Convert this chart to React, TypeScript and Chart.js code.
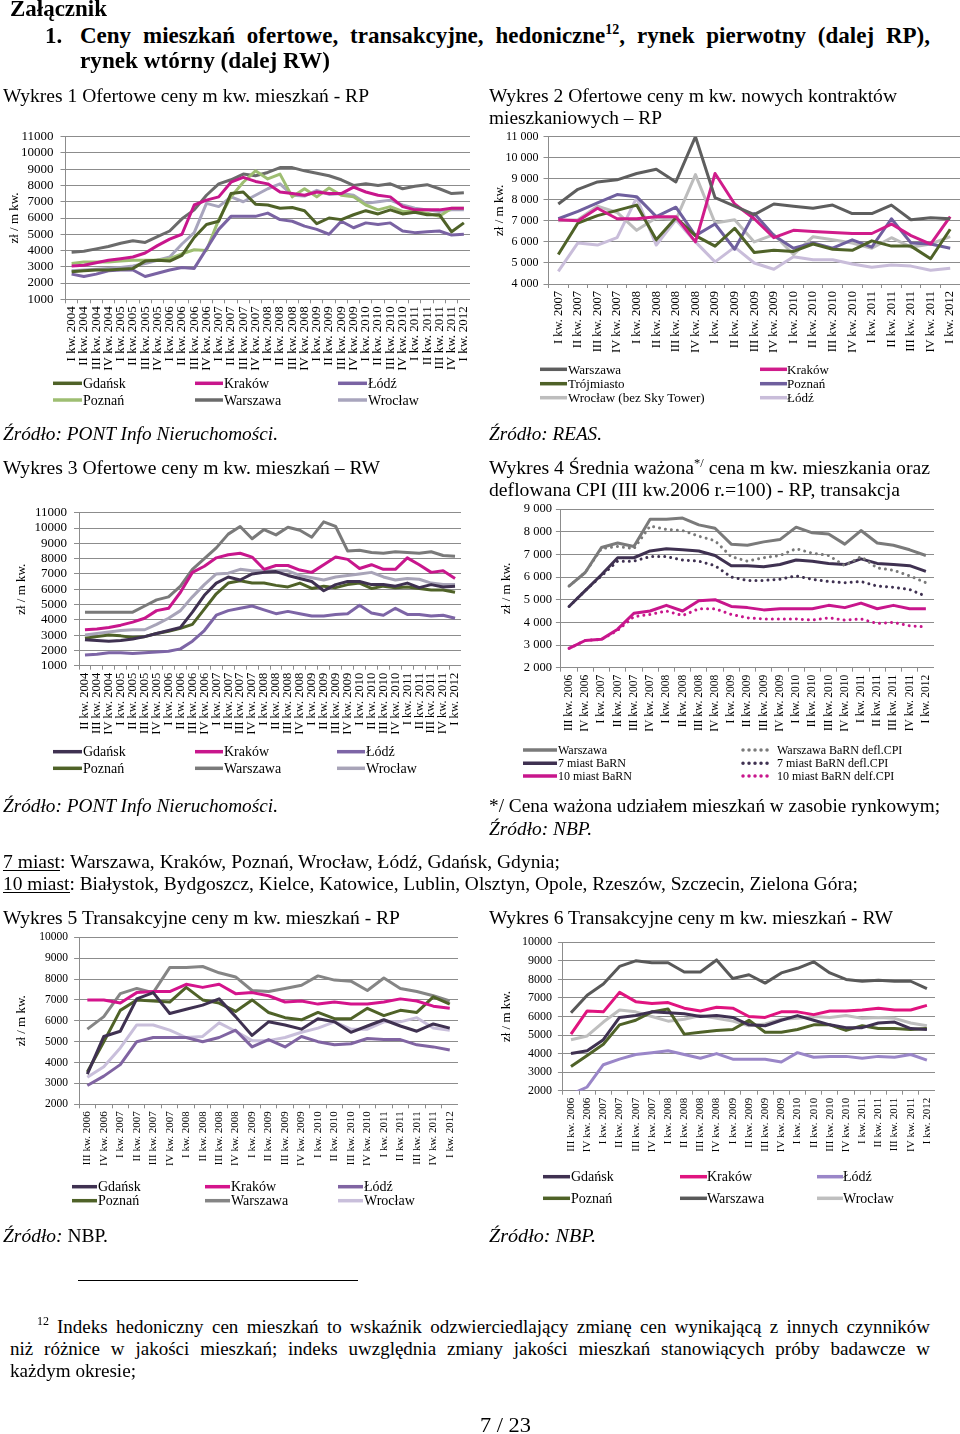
import React, { useEffect, useRef } from "react";
import { Chart, registerables } from "chart.js";

Chart.register(...registerables);

const SERIF = "'Liberation Serif', 'Times New Roman', Times, serif";
const GRID = "#8c8c8c";

// ---------- category labels ----------
const quarters = [
  "I kw. 2004", "II kw. 2004", "III kw. 2004", "IV kw. 2004",
  "I kw. 2005", "II kw. 2005", "III kw. 2005", "IV kw. 2005",
  "I kw. 2006", "II kw. 2006", "III kw. 2006", "IV kw. 2006",
  "I kw. 2007", "II kw. 2007", "III kw. 2007", "IV kw. 2007",
  "I kw. 2008", "II kw. 2008", "III kw. 2008", "IV kw. 2008",
  "I kw. 2009", "II kw. 2009", "III kw. 2009", "IV kw. 2009",
  "I kw. 2010", "II kw. 2010", "III kw. 2010", "IV kw. 2010",
  "I kw. 2011", "II kw. 2011", "III kw. 2011", "IV kw. 2011",
  "I kw. 2012",
];
const labels1 = quarters;
const labels2 = quarters.slice(12);
const labels3 = quarters.slice(1);
const labels456 = quarters.slice(10);

// ---------- Wykres 1 ----------
const c1Gdansk = [2700, 2750, 2800, 2800, 2850, 2900, 3350, 3400, 3350, 3700, 4800, 5600, 5800, 7500, 7600, 6850, 6800, 6600, 6650, 6450, 5650, 6000, 5900, 6200, 6450, 6250, 6500, 6250, 6350, 6200, 6200, 5150, 5700];
const c1Krakow = [3050, 3100, 3250, 3400, 3500, 3600, 3850, 4300, 4700, 5000, 6800, 7100, 7300, 8200, 8500, 8250, 8100, 7600, 7500, 7400, 7600, 7500, 7500, 7900, 7600, 7400, 7300, 6700, 6500, 6500, 6500, 6600, 6600];
const c1Lodz = [2550, 2400, 2550, 2750, 2800, 2800, 2400, 2600, 2800, 2950, 2900, 4100, 5300, 6100, 6100, 6100, 6300, 5900, 5800, 5500, 5300, 5000, 5800, 5400, 5700, 5600, 5700, 5200, 5100, 5150, 5200, 4950, 5000];
const c1Poznan = [3200, 3300, 3300, 3300, 3350, 3400, 3400, 3400, 3500, 3800, 4050, 4000, 5900, 7300, 8200, 8900, 8400, 8700, 7300, 7800, 7300, 7850, 7400, 7300, 6800, 6500, 6700, 6400, 6400, 6300, 6100, 6600, 6600];
const c1Warszawa = [3900, 3950, 4100, 4250, 4450, 4600, 4500, 4850, 5200, 5950, 6500, 7400, 8100, 8350, 8700, 8600, 8800, 9100, 9100, 8900, 8750, 8600, 8350, 8000, 8100, 8000, 8100, 7800, 7950, 8050, 7800, 7500, 7550];
const c1Wroclaw = [2750, 2800, 2850, 2900, 2950, 3050, 3200, 3400, 3600, 4400, 5100, 6900, 6700, 7300, 7000, 7400, 7800, 8100, 7400, 7350, 7700, 7450, 7500, 7400, 6900, 7000, 7100, 6800, 6600, 6500, 6400, 6500, 6500];

// ---------- Wykres 2 ----------
const c2Warszawa = [7800, 8500, 8850, 8950, 9250, 9450, 8850, 11000, 8100, 7700, 7300, 7800, 7700, 7600, 7750, 7350, 7350, 7750, 7050, 7150, 7100];
const c2Krakow = [7050, 7000, 7600, 7100, 7100, 7200, 7200, 6000, 9250, 7800, 7100, 6200, 6550, 6500, 6450, 6400, 6400, 6850, 6300, 5900, 7200];
const c2Trojmiasto = [5400, 6900, 7250, 7500, 7750, 6100, 7150, 6300, 5800, 6650, 5500, 5600, 5550, 5900, 5650, 5600, 6050, 5800, 5800, 5200, 6600];
const c2Poznan = [7100, 7450, 7850, 8250, 8150, 7200, 7650, 6300, 6850, 5650, 7350, 6300, 5700, 5950, 5700, 6100, 5750, 7100, 5950, 5900, 5700];
const c2Wroclaw = [7000, 7050, 7700, 7400, 6550, 7150, 7050, 9200, 6900, 7050, 6000, 6350, 5400, 6250, 6100, 5950, 5700, 6200, 5750, 5900, 6250];
const c2Lodz = [4600, 5950, 5850, 6200, 8100, 5850, 7050, 6000, 5050, 5750, 5000, 4700, 5300, 5150, 5150, 4950, 4800, 4900, 4850, 4650, 4750];

// ---------- Wykres 3 ----------
const c3Gdansk = [2700, 2650, 2600, 2650, 2750, 2900, 3100, 3300, 3500, 4500, 5600, 6400, 6800, 6600, 7000, 7100, 7150, 6900, 6700, 6500, 5900, 6300, 6500, 6500, 6300, 6300, 6200, 6400, 6100, 6300, 6150, 6200];
const c3Krakow = [3350, 3400, 3500, 3650, 3850, 4100, 4600, 4750, 5800, 7100, 7500, 8050, 8250, 8350, 8100, 7300, 7550, 7550, 7250, 7100, 7600, 8100, 7950, 7350, 7600, 7300, 7300, 8050, 7600, 7100, 7200, 6700];
const c3Lodz = [1700, 1750, 1850, 1850, 1800, 1850, 1900, 1950, 2100, 2600, 3300, 4300, 4600, 4750, 4900, 4650, 4400, 4550, 4400, 4250, 4250, 4350, 4400, 4950, 4450, 4300, 4750, 4350, 4350, 4250, 4300, 4100];
const c3Poznan = [2800, 2900, 3000, 2950, 2850, 2900, 3100, 3250, 3450, 3700, 4700, 5700, 6400, 6550, 6400, 6400, 6250, 6150, 6400, 6050, 6200, 6100, 6300, 6400, 6050, 6200, 6100, 6150, 6050, 5950, 5950, 5800];
const c3Warszawa = [4500, 4500, 4500, 4500, 4500, 4900, 5300, 5500, 6200, 7300, 8000, 8700, 9600, 10100, 9300, 9900, 9550, 10050, 9850, 9400, 10400, 10100, 8500, 8550, 8400, 8350, 8450, 8400, 8350, 8450, 8200, 8150];
const c3Wroclaw = [3000, 3100, 3200, 3300, 3350, 3350, 3700, 4100, 4600, 5500, 6300, 7000, 7050, 7300, 7200, 7200, 7200, 7200, 6900, 6750, 6600, 6800, 6900, 7000, 7100, 6800, 6600, 6700, 6650, 6400, 6300, 6300];

// ---------- Wykres 4 ----------
const c4Warszawa = [5600, 6200, 7300, 7500, 7350, 8550, 8550, 8600, 8300, 8150, 7450, 7400, 7550, 7650, 8200, 7950, 7900, 7450, 8050, 7500, 7400, 7200, 6950];
const c4Miast7 = [4700, 5400, 6100, 6850, 6850, 7150, 7250, 7200, 7150, 6950, 6500, 6500, 6450, 6550, 6750, 6700, 6600, 6550, 6800, 6600, 6550, 6500, 6250];
const c4Miast10 = [2850, 3200, 3250, 3700, 4400, 4500, 4750, 4500, 4950, 5000, 4700, 4650, 4550, 4600, 4600, 4600, 4750, 4650, 4850, 4600, 4750, 4600, 4600];
const c4WarszawaDefl = [5600, 6200, 7250, 7350, 7250, 8250, 8100, 8050, 7800, 7600, 6900, 6700, 6850, 6950, 7250, 7050, 6950, 6500, 6900, 6400, 6300, 6050, 5750];
const c4Miast7Defl = [4700, 5400, 6050, 6700, 6700, 6900, 6900, 6750, 6700, 6500, 6000, 5850, 5850, 5900, 6050, 5900, 5800, 5750, 5800, 5600, 5550, 5450, 5150];
const c4Miast10Defl = [2850, 3200, 3250, 3650, 4250, 4350, 4500, 4300, 4600, 4600, 4350, 4200, 4150, 4150, 4150, 4100, 4200, 4100, 4150, 3950, 4000, 3850, 3800];

// ---------- Wykres 5 ----------
const c5Gdansk = [3450, 5250, 5500, 7050, 7350, 6350, 6550, 6750, 7050, 6200, 5300, 5950, 5800, 5600, 6100, 5950, 5450, 5750, 6050, 5750, 5500, 5850, 5650];
const c5Krakow = [7000, 7000, 6850, 7350, 7400, 7400, 7750, 7600, 7750, 7300, 7350, 7200, 6900, 6950, 6800, 6900, 6800, 6800, 6900, 7050, 6950, 6700, 6600];
const c5Lodz = [2900, 3350, 3900, 5000, 5200, 5200, 5200, 5000, 5200, 5550, 4750, 5100, 4750, 5250, 5000, 4850, 4900, 5150, 5100, 5100, 4850, 4750, 4600];
const c5Poznan = [3550, 5000, 6500, 7000, 6950, 6900, 7600, 7000, 6850, 6450, 7000, 6400, 6150, 6050, 6400, 6100, 6100, 6600, 6250, 6500, 6400, 7150, 6800];
const c5Warszawa = [5600, 6200, 7300, 7550, 7350, 8550, 8550, 8600, 8300, 8100, 7450, 7400, 7550, 7700, 8150, 7950, 7900, 7450, 8050, 7550, 7400, 7200, 6950];
const c5Wroclaw = [3300, 3800, 4700, 5800, 5800, 5550, 5200, 5250, 5900, 5500, 5050, 5050, 5200, 5450, 5650, 5950, 5600, 5600, 5950, 5950, 6150, 5650, 5550];

// ---------- Wykres 6 ----------
const c6Gdansk = [4000, 4150, 4750, 5950, 6050, 6250, 6200, 6150, 6000, 6050, 5950, 5550, 5500, 5800, 6050, 5800, 5550, 5400, 5400, 5650, 5700, 5350, 5300];
const c6Krakow = [5050, 6300, 6250, 7300, 6800, 6700, 6750, 6450, 6300, 6500, 6450, 6000, 5950, 6250, 6250, 6100, 6300, 6300, 6350, 6450, 6350, 6350, 6600];
const c6Lodz = [1800, 2200, 3400, 3700, 3950, 4050, 4150, 3950, 3750, 4000, 3700, 3700, 3700, 3550, 4050, 3800, 3850, 3850, 3750, 3850, 3800, 3950, 3650];
const c6Poznan = [3300, 3900, 4500, 5550, 5800, 6250, 6400, 5050, 5150, 5250, 5300, 5800, 5150, 5150, 5300, 5550, 5550, 5250, 5500, 5350, 5350, 5300, 5350];
const c6Warszawa = [6200, 7150, 7750, 8700, 9000, 8900, 8900, 8400, 8400, 9050, 8050, 8250, 7800, 8350, 8600, 8950, 8350, 8000, 7900, 7950, 7900, 7900, 7500];
const c6Wroclaw = [4750, 4950, 5700, 6350, 6250, 6000, 5750, 5850, 6050, 5900, 5750, 5500, 5600, 5850, 5900, 6000, 5950, 6050, 5900, 5950, 5900, 5650, 5500];

type Series = { label: string; data: number[]; color: string; dotted?: boolean };
type Legend = { cols: { x1: number; x2: number; tx: number }[]; rows: number[]; size: number };
type Spec = {
  regionLeft: number;
  plot: { left: number; top: number; right: number; bottom: number };
  xHeight: number;
  labels: string[];
  series: Series[];
  yMin: number;
  yMax: number;
  spaced: boolean;
  tickSize: number;
  xTickSize: number;
  tickPad: number;
  titlePad: number;
  legend: Legend;
};

const charts: Spec[] = [
  {
    regionLeft: 0,
    plot: { left: 65.5, top: 136.7, right: 469.5, bottom: 299.3 },
    xHeight: 75,
    labels: labels1,
    series: [
      { label: "Gdańsk", data: c1Gdansk, color: "#4F6228" },
      { label: "Kraków", data: c1Krakow, color: "#C8168C" },
      { label: "Łódź", data: c1Lodz, color: "#7A63A3" },
      { label: "Poznań", data: c1Poznan, color: "#9EBE72" },
      { label: "Warszawa", data: c1Warszawa, color: "#6B6B6B" },
      { label: "Wrocław", data: c1Wroclaw, color: "#A8A5BD" },
    ],
    yMin: 1000, yMax: 11000, spaced: false,
    tickSize: 13, xTickSize: 13, tickPad: 7, titlePad: 7,
    legend: { cols: [{ x1: 53, x2: 82, tx: 83 }, { x1: 195, x2: 223, tx: 224 }, { x1: 338, x2: 367, tx: 368 }], rows: [383.3, 400], size: 14 },
  },
  {
    regionLeft: 485,
    plot: { left: 548.5, top: 136.7, right: 959.5, bottom: 284 },
    xHeight: 75,
    labels: labels2,
    series: [
      { label: "Warszawa", data: c2Warszawa, color: "#5E5E5E" },
      { label: "Kraków", data: c2Krakow, color: "#D01C8B" },
      { label: "Trójmiasto", data: c2Trojmiasto, color: "#4F6228" },
      { label: "Poznań", data: c2Poznan, color: "#6F5F9E" },
      { label: "Wrocław (bez Sky Tower)", data: c2Wroclaw, color: "#BDBDBD" },
      { label: "Łódź", data: c2Lodz, color: "#C9BDDA" },
    ],
    yMin: 4000, yMax: 11000, spaced: true,
    tickSize: 12, xTickSize: 12.5, tickPad: 5, titlePad: 7,
    legend: { cols: [{ x1: 540, x2: 567, tx: 568 }, { x1: 760, x2: 787, tx: 787 }], rows: [369.3, 383.7, 397.7], size: 13 },
  },
  {
    regionLeft: 0,
    plot: { left: 79, top: 512.7, right: 461, bottom: 665.7 },
    xHeight: 75,
    labels: labels3,
    series: [
      { label: "Gdańsk", data: c3Gdansk, color: "#3F3151" },
      { label: "Kraków", data: c3Krakow, color: "#C8168C" },
      { label: "Łódź", data: c3Lodz, color: "#7D65A6" },
      { label: "Poznań", data: c3Poznan, color: "#4F6228" },
      { label: "Warszawa", data: c3Warszawa, color: "#7A7A7A" },
      { label: "Wrocław", data: c3Wroclaw, color: "#A8A4B8" },
    ],
    yMin: 1000, yMax: 11000, spaced: false,
    tickSize: 13, xTickSize: 12.5, tickPad: 7, titlePad: 14,
    legend: { cols: [{ x1: 53, x2: 82, tx: 83 }, { x1: 195, x2: 223, tx: 224 }, { x1: 337, x2: 365, tx: 366 }], rows: [751.7, 768.3], size: 14 },
  },
  {
    regionLeft: 485,
    plot: { left: 560.9, top: 509, right: 933.8, bottom: 667.7 },
    xHeight: 72,
    labels: labels456,
    series: [
      { label: "Warszawa", data: c4Warszawa, color: "#7A7A7A" },
      { label: "Warszawa BaRN defl.CPI", data: c4WarszawaDefl, color: "#7A7A7A", dotted: true },
      { label: "7 miast BaRN", data: c4Miast7, color: "#3F3151" },
      { label: "7 miast BaRN defl.CPI", data: c4Miast7Defl, color: "#3F3151", dotted: true },
      { label: "10 miast BaRN", data: c4Miast10, color: "#C8168C" },
      { label: "10 miast BaRN delf.CPI", data: c4Miast10Defl, color: "#C8168C", dotted: true },
    ],
    yMin: 2000, yMax: 9000, spaced: true,
    tickSize: 12.5, xTickSize: 11.5, tickPad: 4, titlePad: 14,
    legend: { cols: [{ x1: 523, x2: 557, tx: 558 }, { x1: 743, x2: 773, tx: 777 }], rows: [750, 763.3, 776], size: 12 },
  },
  {
    regionLeft: 0,
    plot: { left: 79.1, top: 937.3, right: 458.2, bottom: 1104.3 },
    xHeight: 72,
    labels: labels456,
    series: [
      { label: "Gdańsk", data: c5Gdansk, color: "#3F3151" },
      { label: "Kraków", data: c5Krakow, color: "#D4148C" },
      { label: "Łódź", data: c5Lodz, color: "#8064A2" },
      { label: "Poznań", data: c5Poznan, color: "#4F6228" },
      { label: "Warszawa", data: c5Warszawa, color: "#858585" },
      { label: "Wrocław", data: c5Wroclaw, color: "#C9BFDB" },
    ],
    yMin: 2000, yMax: 10000, spaced: false,
    tickSize: 11.5, xTickSize: 11, tickPad: 6, titlePad: 14,
    legend: { cols: [{ x1: 72, x2: 97, tx: 98 }, { x1: 205, x2: 230, tx: 231 }, { x1: 338, x2: 363, tx: 364 }], rows: [1186.7, 1200.7], size: 14 },
  },
  {
    regionLeft: 485,
    plot: { left: 562.9, top: 942.3, right: 934.8, bottom: 1090.7 },
    xHeight: 72,
    labels: labels456,
    series: [
      { label: "Gdańsk", data: c6Gdansk, color: "#3F3151" },
      { label: "Kraków", data: c6Krakow, color: "#E0147F" },
      { label: "Łódź", data: c6Lodz, color: "#9A86C8" },
      { label: "Poznań", data: c6Poznan, color: "#4F6228" },
      { label: "Warszawa", data: c6Warszawa, color: "#595959" },
      { label: "Wrocław", data: c6Wroclaw, color: "#BFBFBF" },
    ],
    yMin: 2000, yMax: 10000, spaced: false,
    tickSize: 12, xTickSize: 11, tickPad: 6, titlePad: 14,
    legend: { cols: [{ x1: 543, x2: 570, tx: 571 }, { x1: 680, x2: 707, tx: 707 }, { x1: 817, x2: 843, tx: 843 }], rows: [1176.7, 1198.3], size: 14 },
  },
];

function fmtSpaced(v: number) {
  if (v >= 1000) return `${Math.floor(v / 1000)} ${String(v % 1000).padStart(3, "0")}`;
  return String(v);
}

function LineChart({ spec }: { spec: Spec }) {
  const ref = useRef<HTMLCanvasElement | null>(null);
  const canvasTop = Math.floor(spec.plot.top - 10);
  const padTop = spec.plot.top - canvasTop;
  const width = Math.round(spec.plot.right - spec.regionLeft);
  const height = Math.ceil(spec.plot.bottom - canvasTop + spec.xHeight);
  const xH = height - (spec.plot.bottom - canvasTop);
  const yW = spec.plot.left - spec.regionLeft;

  useEffect(() => {
    const el = ref.current;
    if (!el) return;
    const chart = new Chart(el, {
      type: "line",
      data: {
        labels: spec.labels,
        datasets: spec.series.map((s) => ({
          label: s.label,
          data: s.data,
          borderColor: s.color,
          backgroundColor: s.color,
          borderWidth: 3,
          pointRadius: 0,
          pointHoverRadius: 0,
          tension: 0,
          fill: false,
          borderDash: s.dotted ? [0.01, 6] : [],
          borderCapStyle: s.dotted ? "round" : "butt",
          borderJoinStyle: "round",
        })),
      },
      options: {
        responsive: false,
        maintainAspectRatio: false,
        animation: false,
        devicePixelRatio: 1,
        layout: { padding: { top: padTop, left: 0, right: 0, bottom: 0 } },
        plugins: { legend: { display: false }, tooltip: { enabled: false }, title: { display: false } },
        scales: {
          x: {
            type: "category",
            offset: true,
            grid: { display: true, drawOnChartArea: false, drawTicks: true, tickLength: 4, color: GRID, offset: true },
            border: { display: true, color: GRID, width: 1 },
            ticks: {
              autoSkip: false,
              maxRotation: 90,
              minRotation: 90,
              padding: 3,
              color: "#000",
              font: { family: SERIF, size: spec.xTickSize },
            },
            afterFit: (s: any) => {
              s.height = xH;
              s.paddingLeft = 0;
              s.paddingRight = 0;
            },
          },
          y: {
            min: spec.yMin,
            max: spec.yMax,
            grid: { color: GRID, lineWidth: 1, drawTicks: true, tickLength: 5 },
            border: { display: true, color: GRID, width: 1 },
            ticks: {
              stepSize: 1000,
              autoSkip: false,
              padding: spec.tickPad,
              color: "#000",
              font: { family: SERIF, size: spec.tickSize },
              callback: (v: any) => (spec.spaced ? fmtSpaced(Number(v)) : String(v)),
            },
            title: {
              display: true,
              text: "zł / m kw.",
              color: "#000",
              font: { family: SERIF, size: 13 },
              padding: { top: spec.titlePad, bottom: 0 },
            },
            afterFit: (s: any) => {
              s.width = yW;
              s.paddingTop = 0;
              s.paddingBottom = 0;
            },
          },
        },
      },
    } as any);
    return () => chart.destroy();
  }, [spec]);

  return (
    <canvas
      ref={ref}
      width={width}
      height={height}
      style={{ position: "absolute", left: spec.regionLeft, top: canvasTop, width, height, display: "block" }}
    />
  );
}

function LegendSvg({ spec }: { spec: Spec }) {
  const L = spec.legend;
  const n = L.cols.length;
  return (
    <g>
      {spec.series.map((s, i) => {
        const col = L.cols[i % n];
        const y = L.rows[Math.floor(i / n)];
        return (
          <g key={s.label}>
            <line
              x1={col.x1}
              x2={col.x2}
              y1={y}
              y2={y}
              stroke={s.color}
              strokeWidth={3.5}
              strokeLinecap={s.dotted ? "round" : "butt"}
              strokeDasharray={s.dotted ? "0.01 6" : undefined}
            />
            <text x={col.tx} y={y + L.size * 0.33} fontSize={L.size} fontFamily={SERIF} fill="#000">
              {s.label}
            </text>
          </g>
        );
      })}
    </g>
  );
}

type Line = { x: number; y: number; w?: number; size?: number; italic?: boolean; content: any };

const T = (props: Line) => (
  <text
    x={props.x}
    y={props.y}
    fontSize={props.size ?? 19}
    fontFamily={SERIF}
    fontStyle={props.italic ? "italic" : "normal"}
    fill="#000"
    textLength={props.w}
    lengthAdjust={props.w ? "spacingAndGlyphs" : undefined}
  >
    {props.content}
  </text>
);

function Justified({ left, width, baseline, size, bold, children }: any) {
  return (
    <div
      style={{
        position: "absolute",
        left,
        top: baseline - 0.8375 * size,
        width,
        fontFamily: SERIF,
        fontSize: size,
        lineHeight: `${size}px`,
        fontWeight: bold ? "bold" : "normal",
        textAlign: "justify",
        textAlignLast: "justify" as any,
        color: "#000",
      }}
    >
      {children}
    </div>
  );
}

export default function App() {
  return (
    <div
      style={{
        position: "absolute",
        left: 0,
        top: 0,
        width: 960,
        height: 1434,
        background: "#fff",
        overflow: "hidden",
      }}
    >
      {charts.map((c, i) => (
        <LineChart key={i} spec={c} />
      ))}

      <Justified left={80} width={850} baseline={43} size={23} bold>
        Ceny mieszkań ofertowe, transakcyjne, hedoniczne
        <span style={{ fontSize: 14, position: "relative", top: -9 }}>12</span>, rynek pierwotny (dalej RP),
      </Justified>

      <Justified left={57} width={873} baseline={1333} size={19}>
        Indeks hedoniczny cen mieszkań to wskaźnik odzwierciedlający zmianę cen wynikającą z innych czynników
      </Justified>
      <Justified left={10} width={920} baseline={1355} size={19}>
        niż różnice w jakości mieszkań; indeks uwzględnia zmiany jakości mieszkań stanowiących próby badawcze w
      </Justified>

      <svg
        width={960}
        height={1434}
        style={{ position: "absolute", left: 0, top: 0, pointerEvents: "none" }}
      >
        <text x={10} y={16} fontSize={23} fontWeight="bold" fontFamily={SERIF} textLength={97} lengthAdjust="spacingAndGlyphs">
          Załącznik
        </text>
        <text x={45} y={43} fontSize={23} fontWeight="bold" fontFamily={SERIF}>
          1.
        </text>
        <text x={80} y={68} fontSize={23} fontWeight="bold" fontFamily={SERIF} textLength={250} lengthAdjust="spacingAndGlyphs">
          rynek wtórny (dalej RW)
        </text>

        <T x={3} y={101.5} w={366} content="Wykres 1 Ofertowe ceny m kw. mieszkań - RP" />
        <T x={489} y={101.5} w={408} content="Wykres 2 Ofertowe ceny m kw. nowych kontraktów" />
        <T x={489} y={123.5} w={173} content="mieszkaniowych – RP" />

        <T x={3} y={440} w={275} italic content="Źródło: PONT Info Nieruchomości." />
        <T x={489} y={440} w={113} italic content="Źródło: REAS." />

        <T x={3} y={474} w={377} content="Wykres 3 Ofertowe ceny m kw. mieszkań – RW" />
        <T
          x={489}
          y={474}
          w={441}
          content={
            <>
              Wykres 4 Średnia ważona
              <tspan fontSize={12} dy={-7}>*/</tspan>
              <tspan dy={7}> cena m kw. mieszkania oraz</tspan>
            </>
          }
        />
        <T x={489} y={496} w={411} content="deflowana CPI (III kw.2006 r.=100) - RP, transakcja" />

        <T x={3} y={812} w={275} italic content="Źródło: PONT Info Nieruchomości." />
        <T x={489} y={812} w={451} content="*/ Cena ważona udziałem mieszkań w zasobie rynkowym;" />
        <T x={489} y={834.5} w={103} italic content="Źródło: NBP." />

        <T x={3} y={868} w={557} content="7 miast: Warszawa, Kraków, Poznań, Wrocław, Łódź, Gdańsk, Gdynia;" />
        <line x1={3} x2={60} y1={870.5} y2={870.5} stroke="#000" strokeWidth={1} />
        <T
          x={3}
          y={890}
          w={855}
          content="10 miast: Białystok, Bydgoszcz, Kielce, Katowice, Lublin, Olsztyn, Opole, Rzeszów, Szczecin, Zielona Góra;"
        />
        <line x1={3} x2={70} y1={892.5} y2={892.5} stroke="#000" strokeWidth={1} />

        <T x={3} y={924} w={397} content="Wykres 5 Transakcyjne ceny m kw. mieszkań - RP" />
        <T x={489} y={924} w={404} content="Wykres 6 Transakcyjne ceny m kw. mieszkań - RW" />

        <T
          x={3}
          y={1242}
          w={105}
          content={
            <>
              <tspan fontStyle="italic">Źródło:</tspan> NBP.
            </>
          }
        />
        <T x={489} y={1242} w={107} italic content="Źródło: NBP." />

        <line x1={78} x2={358} y1={1280.5} y2={1280.5} stroke="#000" strokeWidth={1.2} />
        <text x={37} y={1325} fontSize={12} fontFamily={SERIF}>
          12
        </text>
        <T x={10} y={1377} w={126} content="każdym okresie;" />
        <T x={480} y={1431.5} w={51} size={20} content="7 / 23" />

        {charts.map((c, i) => (
          <LegendSvg key={i} spec={c} />
        ))}
      </svg>
    </div>
  );
}
